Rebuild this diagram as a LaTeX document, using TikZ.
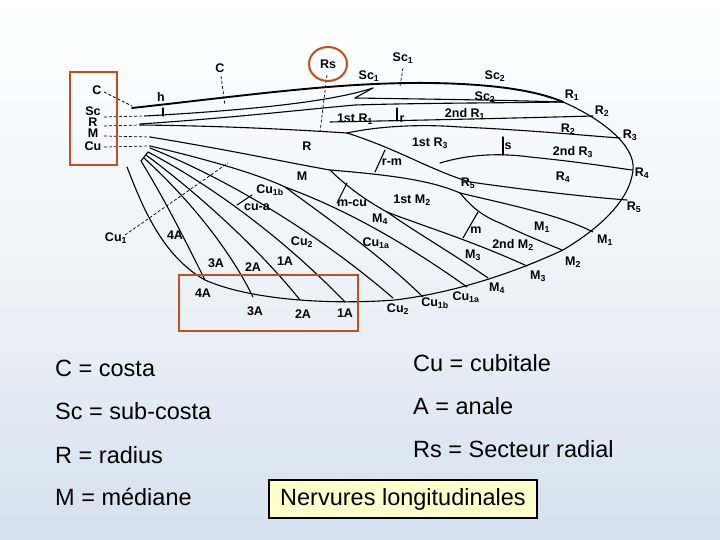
\documentclass[tikz,border=0pt]{standalone}
\usepackage{fontspec}
\setmainfont{Liberation Sans}
\usepackage{tikz}
\usetikzlibrary{calc}
\definecolor{boxred}{HTML}{C0501F}
\definecolor{bgblue}{HTML}{D5E1EE}
\definecolor{notefill}{HTML}{FFFFCC}
\newcommand\ix[1]{\textsubscript{#1}}
\tikzset{
	vein/.style={line width=1.1pt, line cap=round},
	lbl/.style={font=\fontsize{12.5}{13}\selectfont\bfseries, inner sep=1pt},
	lead/.style={densely dashed, line width=0.7pt},
	legend/.style={font=\fontsize{23.5}{28}\selectfont, anchor=west, inner sep=0pt},
	hilite/.style={draw=boxred, line width=2pt}
}
\begin{document}
\begin{tikzpicture}[x=1pt,y=-1pt]
	% background
	\shade[top color=white, bottom color=bgblue, middle color=white!60!bgblue] (0,0) rectangle (720,540);
	\useasboundingbox (0,0) rectangle (720,540);
	% wing outline
	\draw[vein, line width=1.9pt] (132,108) .. controls (250,95) and (340,82) .. (430,83) .. controls (500,84) and (540,92) .. (563,102);
	\draw[vein] (563,102) .. controls (600,118) and (636,145) .. (633,170) .. controls (630,200) and (600,228) .. (563,250)
		.. controls (520,270) and (460,292) .. (395,300) .. controls (330,305) and (250,300) .. (205,280)
		.. controls (160,255) and (140,200) .. (127,167);
	% anterior veins
	\draw[vein] (145,116) .. controls (250,110) and (330,102) .. (373,88);
	\draw[vein] (373,88) -- (355,98);
	\draw[vein] (355,98) .. controls (420,99) and (500,100) .. (563,102);
	\draw[vein] (140,124) .. controls (230,118) and (300,110) .. (355,105) .. controls (420,103) and (500,103) .. (563,102);
	\draw[vein] (163,108) -- (163,116);
	\draw[vein] (140,125) .. controls (230,126) and (300,130) .. (347,133);
	\draw[vein] (330,122) .. controls (430,120) and (520,118) .. (593,116);
	\draw[vein] (397,108) -- (397,121);
	\draw[vein] (347,133) .. controls (380,126) and (420,124) .. (460,127) .. controls (530,130) and (590,136) .. (620,138);
	\draw[vein] (347,133) .. controls (400,150) and (430,170) .. (470,182) .. controls (540,192) and (600,198) .. (627,200);
	\draw[vein] (440,163) .. controls (470,154) and (500,153) .. (530,157) .. controls (580,162) and (610,167) .. (632,170);
	\draw[vein] (503,137) -- (503,155);
	\draw[vein] (385,150) -- (375,172);
	% median veins
	\draw[vein] (150,137) .. controls (230,150) and (300,165) .. (330,170) .. controls (390,175) and (430,180) .. (460,193);
	\draw[vein] (460,193) .. controls (510,205) and (560,215) .. (593,232);
	\draw[vein] (460,193) .. controls (470,205) and (480,215) .. (500,223) .. controls (525,235) and (545,243) .. (562,250);
	\draw[vein] (478,212) -- (463,238);
	\draw[vein] (330,170) .. controls (345,185) and (365,200) .. (387,212);
	\draw[vein] (347,183) -- (337,203);
	\draw[vein] (387,212) .. controls (420,225) and (470,240) .. (527,266);
	\draw[vein] (387,212) .. controls (420,235) and (455,255) .. (488,278);
	% cubital veins
	\draw[vein] (150,146) .. controls (210,160) and (260,175) .. (285,187) .. controls (320,200) and (380,225) .. (467,287);
	\draw[vein] (285,187) .. controls (330,220) and (380,255) .. (423,297);
	\draw[vein] (150,148) .. controls (230,180) and (320,235) .. (393,298);
	\draw[vein] (252,195) -- (237,205);
	% anal veins
	\draw[vein] (148,152) .. controls (220,190) and (290,245) .. (345,302);
	\draw[vein] (146,155) .. controls (200,195) and (260,250) .. (300,300);
	\draw[vein] (144,158) .. controls (190,200) and (230,250) .. (253,297);
	\draw[vein] (148,152) -- (141,161) .. controls (165,200) and (185,240) .. (205,280);
	% leader lines
	\draw[lead] (104,92) -- (132,106);
	\draw[lead] (104,117) -- (145,116);
	\draw[lead] (104,126) -- (140,125);
	\draw[lead] (104,136) -- (150,137);
	\draw[lead] (104,147) -- (150,146);
	\draw[lead] (221,76) -- (225,105);
	\draw[lead] (327,75) -- (320,132);
	\draw[lead] (403,68) -- (400,86);
	\draw[lead] (125,235) -- (228,163);
	% labels
	\foreach \x/\y/\t in {97/90/C, 93/111/Sc, 93/122/R, 93/133/M, 93/146/Cu, 161/97/h, 220/68/C, 328/64/Rs,
		369/76/Sc\ix{1}, 403/58/Sc\ix{1}, 495/76/Sc\ix{2}, 485/97/Sc\ix{2}, 572/95/R\ix{1}, 602/111/R\ix{2},
		630/135/R\ix{3}, 642/173/R\ix{4}, 634/207/R\ix{5}, 355/119/1st R\ix{1}, 402/119/r, 465/114/2nd R\ix{1},
		568/129/R\ix{2}, 430/143/1st R\ix{3}, 508/146/s, 573/152/2nd R\ix{3}, 563/177/R\ix{4}, 468/183/R\ix{5},
		392/162/r-m, 307/146/R, 302/176/M, 412/200/1st M\ix{2}, 270/190/Cu\ix{1b}, 257/207/cu-a, 352/203/m-cu,
		380/219/M\ix{4}, 376/243/Cu\ix{1a}, 476/230/m, 513/245/2nd M\ix{2}, 542/227/M\ix{1}, 605/240/M\ix{1},
		573/262/M\ix{2}, 473/255/M\ix{3}, 538/276/M\ix{3}, 497/288/M\ix{4}, 466/297/Cu\ix{1a}, 435/303/Cu\ix{1b},
		398/309/Cu\ix{2}, 345/313/1A, 303/314/2A, 255/311/3A, 203/293/4A, 175/235/4A, 216/263/3A, 253/267/2A,
		285/261/1A, 302/242/Cu\ix{2}, 116/238/Cu\ix{1}}
		\node[lbl] at (\x,\y) {\t};
	% highlights
	\draw[hilite] (70,72) rectangle (117,165);
	\draw[hilite] (179,275) rectangle (358,331);
	\draw[hilite] (328,64) ellipse (19 and 17);
	% legend
	\node[legend] (costa) at (55,368) {C = costa};
	\node[legend] (subcosta) at (55,411) {Sc = sub-costa};
	\node[legend] (radius) at (55,455) {R = radius};
	\node[legend] (mediane) at (55,497) {M = médiane};
	\node[legend] (cubitale) at (413,363) {Cu = cubitale};
	\node[legend] (anale) at (413,406) {A = anale};
	\node[legend] (secteur) at (413,449) {Rs = Secteur radial};
	\node[draw=black, line width=1.6pt, fill=notefill, minimum width=268pt, minimum height=38pt, font=\fontsize{23.5}{28}\selectfont] (note) at (403,499) {Nervures longitudinales};
\end{tikzpicture}
\end{document}
